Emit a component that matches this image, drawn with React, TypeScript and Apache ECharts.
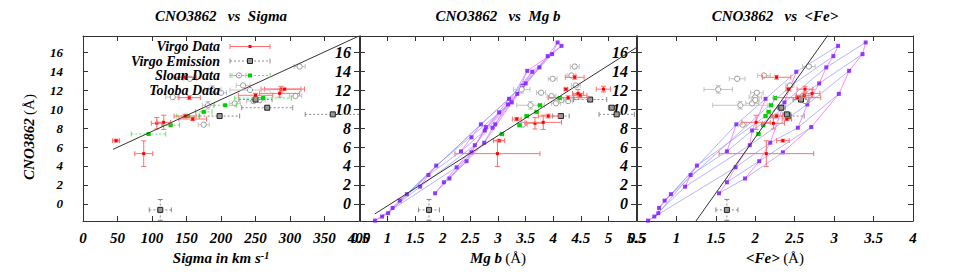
import React, { useEffect, useRef } from "react";
import * as echarts from "echarts";

const FONT = '"Liberation Serif", "DejaVu Serif", serif';

// ---------- axis ticks ----------
const cnoTicks = [0, 2, 4, 6, 8, 10, 12, 14, 16];

// ---------- Virgo Data (red) ----------
const virgoSigma = [48, 88, 107, 117, 148, 159, 154, 148, 250, 287, 285, 292];
const virgoSigmaErr = [5, 13, 8, 10, 16, 20, 16, 16, 25, 29, 29, 29];
const virgoMgb = [3.02, 2.99, 3.67, 3.82, 3.91, 3.34, 4.27, 4.39, 4.49, 4.91, 4.45, 4.23];
const virgoMgbErr = [0.1, 0.77, 0.15, 0.33, 0.18, 0.08, 0.36, 0.17, 0.12, 0.13, 0.1, 0.03];
const virgoFe = [2.35, 2.14, 2.23, 2.01, 2.27, 2.4, 2.53, 2.27, 2.62, 2.63, 2.72, 2.42];
const virgoFeErr = [0.08, 0.6, 0.14, 0.18, 0.08, 0.06, 0.3, 0.18, 0.1, 0.1, 0.1, 0.03];
const virgoCNO = [6.67, 5.3, 8.5, 8.6, 9.26, 8.95, 11.2, 13.35, 11.45, 12.1, 11.65, 12.1];
const virgoCNOErr = [0.15, 1.35, 0.6, 0.75, 0.2, 0.15, 0.2, 0.2, 0.2, 0.3, 0.4, 0.1];

// ---------- Virgo Emission (black) ----------
const emisSigma = [112, 198, 267, 250, 362];
const emisSigmaErr = [16, 29, 37, 24, 40];
const emisMgb = [1.75, 4.14, 5.06, 4.67, 5.15];
const emisMgbErr = [0.19, 0.15, 0.06, 0.3, 0.32];
const emisFe = [1.64, 2.42, 2.33, 2.58, 2.4];
const emisFeErr = [0.14, 0.2, 0.05, 0.1, 0.05];
const emisCNO = [-0.63, 9.26, 10.14, 11.0, 9.44];
const emisCNOErr = [1.1, 0.2, 0.2, 0.2, 0.2];

// ---------- Sloan Data (green) ----------
const sloanSigma = [95, 127, 152, 175, 206, 261];
const sloanSigmaErr = [25, 13, 16, 12, 16, 41];
const sloanMgb = [3.07, 3.39, 3.52, 3.7, 3.76, 4.12];
const sloanMgbErr = [0.03, 0.03, 0.03, 0.03, 0.03, 0.03];
const sloanFe = [2.04, 2.1, 2.13, 2.17, 2.2, 2.25];
const sloanFeErr = [0.02, 0.02, 0.02, 0.02, 0.02, 0.02];
const sloanCNO = [7.37, 8.3, 9.26, 9.7, 10.4, 11.16];
const sloanCNOErr = [0.05, 0.05, 0.05, 0.05, 0.05, 0.05];

// ---------- Toloba Data (grey) ----------
const tolSigma = [130, 175, 181, 200, 220, 232, 247, 256, 308, 314, 226, 188, 155];
const tolSigmaErr = [10, 8, 8, 8, 8, 10, 10, 8, 9, 8, 10, 12, 10];
const tolMgb = [4.42, 3.45, 3.59, 3.78, 4.05, 4.41, 4.27, 4.15, 3.97, 4.39, 4.33, 3.43, 3.99];
const tolMgbErr = [0.08, 0.08, 0.25, 0.08, 0.08, 0.08, 0.08, 0.08, 0.08, 0.08, 0.08, 0.15, 0.08];
const tolFe = [2.0, 1.84, 1.81, 2.02, 1.96, 2.44, 2.63, 2.0, 2.6, 2.68, 2.11, 1.53, 1.77];
const tolFeErr = [0.08, 0.05, 0.35, 0.08, 0.08, 0.05, 0.05, 0.05, 0.08, 0.08, 0.08, 0.18, 0.1];
const tolCNO = [11.26, 8.35, 10.4, 11.72, 10.6, 12.49, 10.84, 10.95, 11.37, 14.48, 13.54, 12.07, 13.19];
const tolCNOErr = [0.2, 0.2, 0.4, 0.2, 0.2, 0.2, 0.2, 0.2, 0.2, 0.2, 0.2, 0.4, 0.2];

// ---------- model grid ----------
const modelCNO = [17.02, 16.66, 15.79, 15.58, 14.39, 14.03, 13.93, 12.7, 12.45, 11.6, 11.08, 10.7, 10.49, 8.39, 8.03, 8.1, 7.74, 6.45, 6.19, 5.54, 5.44, 4.5, 4.04, 3.86, 3.05, 2.68, 2.28, 1.82, 1.12, 1.03, 0.35, -0.42, -0.98, -1.33, -1.76];
const modelMgb = [4.08, 4.15, 3.98, 3.9, 3.75, 3.53, 3.62, 3.5, 3.44, 3.35, 3.2, 3.25, 3.18, 2.69, 2.9, 2.78, 2.76, 2.75, 2.58, 2.33, 2.52, 2.43, 1.88, 2.25, 1.74, 2.12, 2.02, 1.59, 1.86, 1.35, 1.22, 1.09, 1.01, 0.9, 0.77];
const modelFe = [3.4, 3.05, 3.36, 2.99, 2.9, 3.19, 2.52, 2.81, 2.45, 3.06, 2.13, 2.37, 2.66, 1.76, 2.54, 2.71, 1.96, 2.19, 1.93, 1.64, 2.35, 2.05, 1.26, 1.75, 1.18, 1.87, 1.64, 1.11, 1.54, 0.93, 0.85, 0.78, 0.77, 0.72, 0.64];
const blueTracks = [
  [29, 13, 10, 6, 1],
  [30, 8, 3],
  [31, 22, 11, 4, 0],
  [32, 24, 19, 16, 7, 2],
  [33, 27, 18, 12, 5],
  [34, 23, 17, 14, 9],
  [26, 21, 15],
  [28, 25, 20],
];
const pinkTracks = [
  [20, 15, 9, 5, 2, 0],
  [14, 12, 7, 4, 3, 1],
  [25, 21, 17, 11, 8, 6],
  [28, 26, 23, 18, 16, 10],
  [27, 24, 22],
  [19, 13],
  [34, 33, 32, 31, 30, 29],
];
const extraModelCNO = [9.65, 8.39, 7.02];
const extraModelMgb = [3.02, 2.95, 2.52];

// ---------- fitted lines ----------
const fitSigma = [[43.5, 5.75], [400, 17.7]];
const fitMgb = [[0.77, -1.05], [5.5, 16.45]];
const fitFe = [[1.2, -2.36], [2.95, 18.12]];

const panels = [
  { left: 83, xmin: 0, xmax: 400, xint: 50, ylabSize: 13, ylabMargin: 20, title: "CNO3862\u00a0\u00a0\u00a0vs\u00a0\u00a0Sigma", cx: 221 },
  { left: 360, xmin: 0.5, xmax: 5.5, xint: 0.5, ylabSize: 16, ylabMargin: 9, title: "CNO3862\u00a0\u00a0\u00a0vs\u00a0\u00a0Mg b", cx: 498 },
  { left: 637, xmin: 0.5, xmax: 4, xint: 0.5, ylabSize: 16, ylabMargin: 9, title: "CNO3862\u00a0\u00a0\u00a0vs\u00a0\u00a0<Fe>", cx: 775 },
];
const TOP = 36, W = 276, H = 185;

type Grp = {
  xs: number[][]; xe: number[][]; y: number[]; ye: number[];
  bar: string; dash: number[] | null; marker: string;
};

const groups: Grp[] = [
  { xs: [tolSigma, tolMgb, tolFe], xe: [tolSigmaErr, tolMgbErr, tolFeErr], y: tolCNO, ye: tolCNOErr, bar: "#c4c4c4", dash: null, marker: "circ" },
  { xs: [emisSigma, emisMgb, emisFe], xe: [emisSigmaErr, emisMgbErr, emisFeErr], y: emisCNO, ye: emisCNOErr, bar: "#8a8a8a", dash: [2, 2], marker: "box" },
  { xs: [sloanSigma, sloanMgb, sloanFe], xe: [sloanSigmaErr, sloanMgbErr, sloanFeErr], y: sloanCNO, ye: sloanCNOErr, bar: "#5ee85e", dash: [2, 2], marker: "sq" },
  { xs: [virgoSigma, virgoMgb, virgoFe], xe: [virgoSigmaErr, virgoMgbErr, virgoFeErr], y: virgoCNO, ye: virgoCNOErr, bar: "#ff6f6f", dash: null, marker: "dot" },
];

function markerEl(kind: string, cx: number, cy: number): any {
  if (kind === "circ") return { type: "circle", shape: { cx, cy, r: 2.6 }, style: { fill: "#fff", stroke: "#9a9a9a", lineWidth: 1 } };
  if (kind === "box") return { type: "rect", shape: { x: cx - 2.5, y: cy - 2.5, width: 5, height: 5 }, style: { fill: "#999", stroke: "#222", lineWidth: 1 } };
  if (kind === "sq") return { type: "rect", shape: { x: cx - 2, y: cy - 2, width: 4, height: 4 }, style: { fill: "#00d000" } };
  return { type: "rect", shape: { x: cx - 1.5, y: cy - 1.5, width: 3, height: 3 }, style: { fill: "#ff0000" } };
}

function errRender(g: Grp) {
  return (params: any, api: any) => {
    const x = api.value(0), y = api.value(1), xe = api.value(2), ye = api.value(3);
    const c = api.coord([x, y]);
    const l = api.coord([x - xe, y]);
    const r = api.coord([x + xe, y]);
    const t = api.coord([x, y + ye]);
    const b = api.coord([x, y - ye]);
    const ls: any = { stroke: g.bar, lineWidth: 1 };
    if (g.dash) ls.lineDash = g.dash;
    const cs: any = { stroke: g.bar, lineWidth: 1 };
    const k = 2.5;
    const children: any[] = [
      { type: "line", shape: { x1: l[0], y1: c[1], x2: r[0], y2: c[1] }, style: ls },
      { type: "line", shape: { x1: c[0], y1: t[1], x2: c[0], y2: b[1] }, style: ls },
      { type: "line", shape: { x1: l[0], y1: c[1] - k, x2: l[0], y2: c[1] + k }, style: cs },
      { type: "line", shape: { x1: r[0], y1: c[1] - k, x2: r[0], y2: c[1] + k }, style: cs },
      { type: "line", shape: { x1: c[0] - k, y1: t[1], x2: c[0] + k, y2: t[1] }, style: cs },
      { type: "line", shape: { x1: c[0] - k, y1: b[1], x2: c[0] + k, y2: b[1] }, style: cs },
      markerEl(g.marker, c[0], c[1]),
    ];
    return { type: "group", children };
  };
}

function buildOption(): any {
  const xAxis: any[] = [];
  const yAxis: any[] = [];
  const axisLineStyle = { color: "#333", width: 1 };
  const labelFont = { color: "#000", fontFamily: FONT, fontWeight: "bold", fontStyle: "italic" };
  panels.forEach((p, k) => {
    const xc = {
      type: "value", gridIndex: k, min: p.xmin, max: p.xmax, interval: p.xint,
      splitLine: { show: false },
      axisLine: { show: true, onZero: false, lineStyle: axisLineStyle },
      axisTick: { show: true, inside: true, length: 5, lineStyle: axisLineStyle },
    };
    xAxis.push({ ...xc, position: "bottom", axisLabel: { show: true, margin: 9, showMinLabel: true, showMaxLabel: true, fontSize: 15, ...labelFont } });
    xAxis.push({ ...xc, position: "top", axisLabel: { show: false } });
    const yc = {
      type: "value", gridIndex: k, min: -1.8, max: 17.7,
      splitLine: { show: false },
      axisLine: { show: true, onZero: false, lineStyle: axisLineStyle },
      axisTick: { show: true, inside: true, length: 5, customValues: cnoTicks, lineStyle: axisLineStyle },
    };
    yAxis.push({ ...yc, position: "left", axisLabel: { show: true, customValues: cnoTicks, margin: p.ylabMargin, fontSize: p.ylabSize, ...labelFont } });
    yAxis.push({ ...yc, position: "right", axisLabel: { show: false } });
  });

  const series: any[] = [];
  // model grid (panels 2 and 3)
  const modelX = [null, modelMgb, modelFe];
  [1, 2].forEach((k) => {
    const mx = modelX[k] as number[];
    blueTracks.forEach((tr) => {
      series.push({
        type: "line", xAxisIndex: 2 * k, yAxisIndex: 2 * k, silent: true, symbol: "none",
        data: tr.map((i) => [mx[i], modelCNO[i]]),
        lineStyle: { color: "#9ea3ff", width: 0.8 }, z: 2,
      });
    });
    pinkTracks.forEach((tr) => {
      series.push({
        type: "line", xAxisIndex: 2 * k, yAxisIndex: 2 * k, silent: true, symbol: "none",
        data: tr.map((i) => [mx[i], modelCNO[i]]),
        lineStyle: { color: "#ff7aff", width: 0.9 }, z: 2,
      });
    });
    series.push({
      type: "scatter", xAxisIndex: 2 * k, yAxisIndex: 2 * k, silent: true, symbol: "rect", symbolSize: 4,
      data: mx.map((v, i) => [v, modelCNO[i]]),
      itemStyle: { color: "#7412ff" }, z: 3,
    });
    if (k === 1) {
      series.push({
        type: "scatter", xAxisIndex: 2, yAxisIndex: 2, silent: true, symbol: "rect", symbolSize: 4,
        data: extraModelMgb.map((v, i) => [v, extraModelCNO[i]]),
        itemStyle: { color: "#7412ff" }, z: 3,
      });
    }
  });

  // data with error bars
  [0, 1, 2].forEach((k) => {
    groups.forEach((g) => {
      series.push({
        type: "custom", xAxisIndex: 2 * k, yAxisIndex: 2 * k, silent: true, clip: true,
        renderItem: errRender(g),
        encode: { x: 0, y: 1 },
        data: g.xs[k].map((x, i) => [x, g.y[i], g.xe[k][i], g.ye[i]]),
        z: 4,
      });
    });
  });

  // fitted lines
  [fitSigma, fitMgb, fitFe].forEach((f, k) => {
    series.push({
      type: "line", xAxisIndex: 2 * k, yAxisIndex: 2 * k, silent: true, symbol: "none",
      data: f, lineStyle: { color: "#333", width: 1 }, z: 5, clip: true,
    });
  });

  const titleFont = { fontFamily: FONT, fontWeight: "bold", fontStyle: "italic", fontSize: 15, fill: "#000" };
  const graphic: any[] = [];
  panels.forEach((p) => {
    graphic.push({ type: "text", x: p.cx, y: 16, silent: true, style: { text: p.title, align: "center", verticalAlign: "middle", ...titleFont } });
  });
  const richBase = {
    a: { fontFamily: FONT, fontWeight: "bold", fontStyle: "italic", fontSize: 15, fill: "#000" },
    r: { fontFamily: FONT, fontWeight: "normal", fontStyle: "normal", fontSize: 15, fill: "#000" },
    s: { fontFamily: FONT, fontWeight: "bold", fontStyle: "italic", fontSize: 10, fill: "#000", verticalAlign: "top" },
  };
  const xTitles = ["{a|Sigma in km s}{s|-1}", "{a|Mg b} {r|(\u00c5)}", "{a|<Fe>} {r|(\u00c5)}"];
  panels.forEach((p, k) => {
    graphic.push({ type: "text", x: p.cx, y: 258, silent: true, style: { text: xTitles[k], rich: richBase, align: "center", verticalAlign: "middle" } });
  });
  graphic.push({
    type: "text", x: 29, y: 137, rotation: Math.PI / 2, silent: true,
    style: { text: "{a|CNO3862} {r|(\u00c5)}", rich: richBase, align: "center", verticalAlign: "middle" },
  });

  // legend (gnuplot style: label then sample)
  const legendRows = [
    { label: "Virgo Data", g: groups[3] },
    { label: "Virgo Emission", g: groups[1] },
    { label: "Sloan Data", g: groups[2] },
    { label: "Toloba Data", g: groups[0] },
  ];
  const legY = [46.5, 61, 75.5, 90];
  const legFont = { ...titleFont, fontSize: 14 };
  legendRows.forEach((row, i) => {
    const y = legY[i];
    graphic.push({ type: "text", x: 220, y, silent: true, z: 10, style: { text: row.label, align: "right", verticalAlign: "middle", ...legFont } });
    const ls: any = { stroke: row.g.bar, lineWidth: 1 };
    if (row.g.dash) ls.lineDash = row.g.dash;
    graphic.push({ type: "line", silent: true, z: 10, shape: { x1: 230, y1: y, x2: 270, y2: y }, style: ls });
    graphic.push({ type: "line", silent: true, z: 10, shape: { x1: 230, y1: y - 2.5, x2: 230, y2: y + 2.5 }, style: { stroke: row.g.bar, lineWidth: 1 } });
    graphic.push({ type: "line", silent: true, z: 10, shape: { x1: 270, y1: y - 2.5, x2: 270, y2: y + 2.5 }, style: { stroke: row.g.bar, lineWidth: 1 } });
    graphic.push({ ...markerEl(row.g.marker, 250, y), silent: true, z: 10 });
  });

  return {
    animation: false,
    backgroundColor: "#fff",
    grid: panels.map((p) => ({ left: p.left, top: TOP, width: W, height: H, show: false })),
    xAxis,
    yAxis,
    series,
    graphic,
  };
}

export default function App() {
  const ref = useRef<HTMLDivElement>(null);
  useEffect(() => {
    document.body.style.margin = "0";
    const chart = echarts.init(ref.current as HTMLDivElement, null, { renderer: "svg" });
    chart.setOption(buildOption());
    return () => chart.dispose();
  }, []);
  return <div ref={ref} style={{ width: 969, height: 277 }} />;
}
